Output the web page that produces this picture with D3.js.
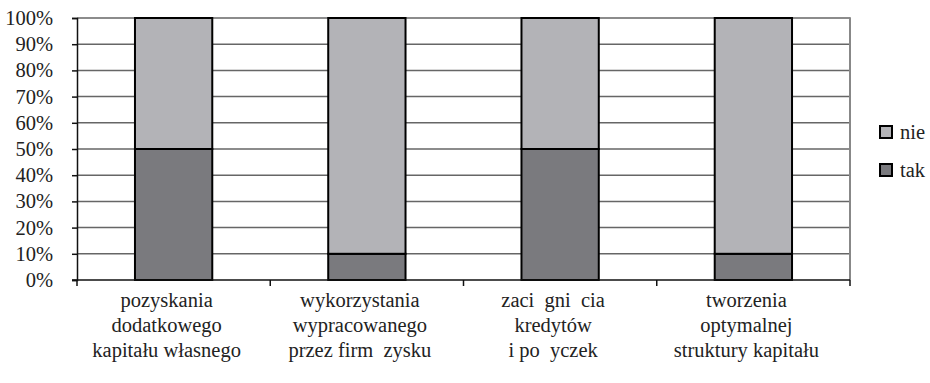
<!DOCTYPE html>
<head>
<meta charset="utf-8" />
<script src="https://d3js.org/d3.v7.min.js"></script>
<style>
    body { margin: 0; background: #fff; }
    svg text { font-family: "Liberation Serif", Tinos, "Times New Roman", "DejaVu Serif", "Noto Serif", serif !important; fill: #222; white-space: pre; }
</style>
</head>
<body>
<svg width="930" height="383"></svg>
<script>
    // labels as printed (Polish diacritics lost in the source)
    let categories = [
        ["pozyskania", "dodatkowego", "kapitału własnego"],
        ["wykorzystania", "wypracowanego", "przez firm  zysku"],
        ["zaci  gni  cia", "kredytów", "i po  yczek"],
        ["tworzenia", "optymalnej", "struktury kapitału"]
    ];
    let tak = [50, 10, 50, 10];
    let nie = [50, 90, 50, 90];
    let yTicks = [0, 10, 20, 30, 40, 50, 60, 70, 80, 90, 100];
    let seriesNames = ["nie", "tak"];

    let plotLeft = 77, plotRight = 850, plotTop = 18, plotBottom = 280;
    let fontSize = 20.5;
    let svg = d3.select("svg");

    let x = d3.scaleBand().domain(d3.range(categories.length))
        .range([plotLeft, plotRight]).paddingInner(0.6).paddingOuter(0.3);
    let y = d3.scaleLinear().domain([0, 100]).range([plotBottom, plotTop]);
    let colors = {nie: "#b3b3b7", tak: "#7a7a7e"};

    // gridlines
    svg.append("g").selectAll("line").data(yTicks.slice(1)).join("line")
        .attr("x1", plotLeft).attr("x2", plotRight)
        .attr("y1", d => y(d)).attr("y2", d => y(d))
        .attr("stroke", "#666").attr("stroke-width", 1.5);

    // right border
    svg.append("line").attr("x1", plotRight).attr("x2", plotRight)
        .attr("y1", plotTop - 0.75).attr("y2", plotBottom)
        .attr("stroke", "#888").attr("stroke-width", 2);

    // bars
    let stacked = categories.map((c, i) => ({i: i, tak: tak[i], nie: nie[i]}));
    svg.append("g").selectAll("rect").data(stacked).join("rect")
        .attr("x", d => x(d.i)).attr("width", x.bandwidth())
        .attr("y", d => y(d.tak)).attr("height", d => y(0) - y(d.tak))
        .attr("fill", colors.tak).attr("stroke", "#000").attr("stroke-width", 2);
    svg.append("g").selectAll("rect").data(stacked).join("rect")
        .attr("x", d => x(d.i)).attr("width", x.bandwidth())
        .attr("y", d => y(d.tak + d.nie)).attr("height", d => y(d.tak) - y(d.tak + d.nie))
        .attr("fill", colors.nie).attr("stroke", "#000").attr("stroke-width", 2);

    // y axis
    let yAxis = svg.append("g").attr("transform", "translate(" + plotLeft + ",0)")
        .call(d3.axisLeft(y).tickValues(yTicks).tickFormat(d => d + "%").tickSize(5).tickPadding(19));
    yAxis.attr("font-family", null).attr("font-size", fontSize);
    yAxis.select(".domain").attr("stroke", "#111").attr("stroke-width", 1.5);
    yAxis.selectAll(".tick line").attr("stroke", "#111").attr("stroke-width", 1.5);
    yAxis.selectAll(".tick text").attr("fill", "#222");

    // x axis line + boundary ticks
    svg.append("line").attr("x1", plotLeft - 5).attr("x2", plotRight)
        .attr("y1", plotBottom).attr("y2", plotBottom)
        .attr("stroke", "#111").attr("stroke-width", 1.5);
    let bounds = d3.range(categories.length + 1).map(i => plotLeft + i * x.step());
    svg.append("g").selectAll("line").data(bounds).join("line")
        .attr("x1", d => d).attr("x2", d => d)
        .attr("y1", plotBottom).attr("y2", plotBottom + 6)
        .attr("stroke", "#111").attr("stroke-width", 1.5);

    // category labels
    let lab = svg.append("g").selectAll("text").data(categories).join("text")
        .attr("text-anchor", "middle").attr("font-size", fontSize)
        .attr("transform", (d, i) => "translate(" + (x(i) + x.bandwidth() / 2 - 7) + ",0)");
    lab.selectAll("tspan").data(d => d).join("tspan")
        .attr("x", 0).attr("y", (d, j) => 307 + j * 25)
        .text(d => d);

    // legend
    let legend = svg.append("g").selectAll("g").data(seriesNames).join("g")
        .attr("transform", (d, i) => "translate(880," + (126 + i * 38) + ")");
    legend.append("rect").attr("width", 12).attr("height", 12)
        .attr("fill", d => colors[d]).attr("stroke", "#000").attr("stroke-width", 2);
    legend.append("text").attr("x", 20).attr("y", 12.5).attr("font-size", fontSize)
        .text(d => d);
</script>
</body>
